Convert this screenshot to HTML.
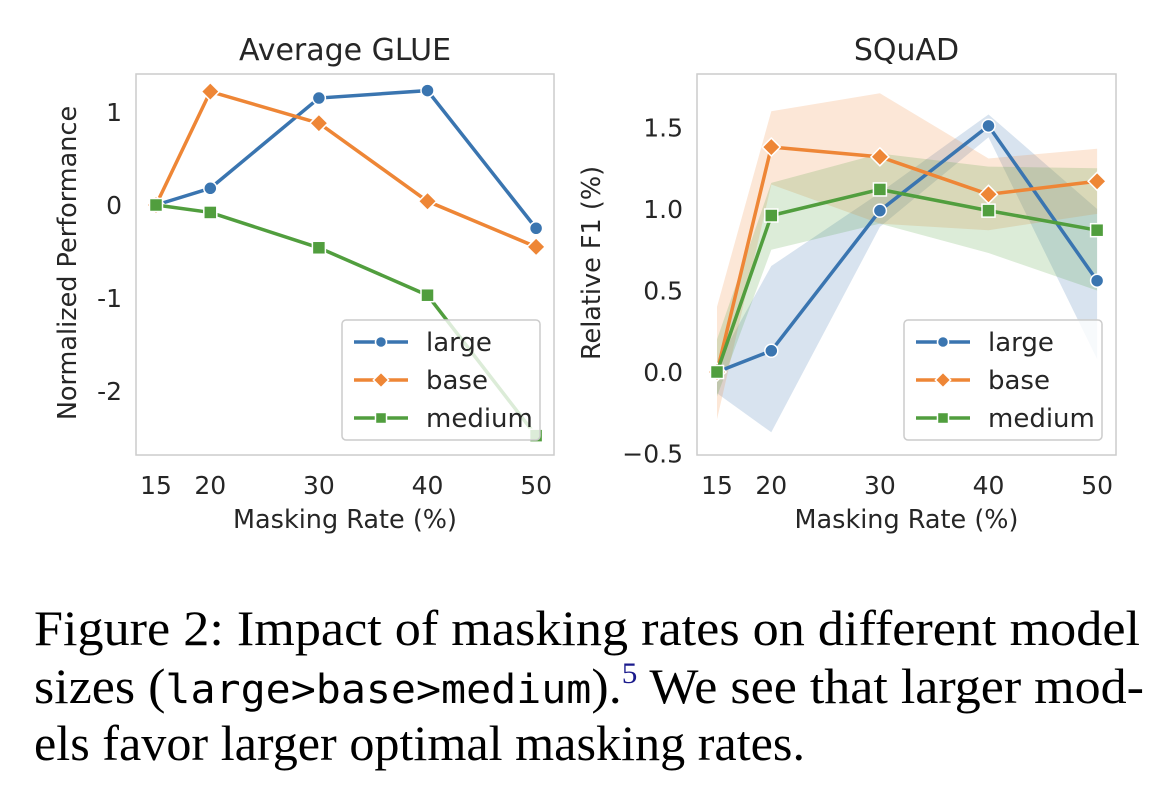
<!DOCTYPE html>
<html><head><meta charset="utf-8"><style>
html,body{margin:0;padding:0;background:#fff;}
svg{display:block;}
.t{font-family:"DejaVu Sans","Liberation Sans",sans-serif;fill:#262626;}
.cap{font-family:"Liberation Serif",serif;font-size:50px;fill:#000;}
.mono{font-family:"DejaVu Sans Mono","Liberation Mono",monospace;}
</style></head><body>
<svg id="fig" width="1174" height="804" viewBox="0 0 1174 804" xmlns="http://www.w3.org/2000/svg">
<g id="left"></g>
<g id="right"></g>
<g>
<text class="cap" x="34" y="645" textLength="1106" lengthAdjust="spacingAndGlyphs">Figure 2: Impact of masking rates on different model</text>
<text class="cap" x="34" y="703" textLength="1110" lengthAdjust="spacingAndGlyphs">sizes (<tspan class="mono" font-size="40">large&gt;base&gt;medium</tspan>).<tspan fill="#1a1a8c" font-size="30" dy="-20">5</tspan><tspan dy="20"> We see that larger mod-</tspan></text>
<text class="cap" x="34" y="760" textLength="771" lengthAdjust="spacingAndGlyphs">els favor larger optimal masking rates.</text>
</g>
</svg>
<script>
const xCats = [15, 20, 30, 40, 50];
const glueLarge = [0, 0.18, 1.15, 1.23, -0.25];
const glueBase = [0, 1.22, 0.88, 0.04, -0.45];
const glueMedium = [0, -0.08, -0.46, -0.97, -2.48];
const glueTicks = [1, 0, -1, -2];
const glueTickLabels = ["1", "0", "-1", "-2"];
const squadLarge = [0, 0.13, 0.99, 1.51, 0.56];
const squadBase = [0, 1.38, 1.32, 1.09, 1.17];
const squadMedium = [0, 0.96, 1.12, 0.99, 0.87];
const squadLargeHi = [0.05, 0.65, 1.1, 1.58, 1.0];
const squadLargeLo = [-0.13, -0.37, 0.89, 1.44, 0.08];
const squadBaseHi = [0.4, 1.6, 1.71, 1.31, 1.37];
const squadBaseLo = [-0.29, 1.15, 0.91, 0.87, 0.97];
const squadMediumHi = [0.2, 1.16, 1.34, 1.26, 1.25];
const squadMediumLo = [-0.15, 0.75, 0.91, 0.73, 0.5];
const squadTicks = [1.5, 1.0, 0.5, 0.0, -0.5];
const squadTickLabels = ["1.5", "1.0", "0.5", "0.0", "\u22120.5"];
const seriesNames = ["large", "base", "medium"];
const colors = ["#3a75b0", "#ee8636", "#519e3e"];
const NS = "http://www.w3.org/2000/svg";
function mk(parent, tag, attrs, txt) {
  const e = document.createElementNS(NS, tag);
  for (const k in attrs) e.setAttribute(k, attrs[k]);
  if (txt !== undefined) e.textContent = txt;
  parent.appendChild(e);
  return e;
}
function marker(g, kind, x, y, c, s) {
  let m;
  if (kind === 0) m = mk(g, "circle", {cx: x, cy: y, r: 6.5*s, fill: c, stroke: "#fff", "stroke-width": 1.5});
  else if (kind === 1) m = mk(g, "path", {d: `M${x} ${y-9*s}L${x+9*s} ${y}L${x} ${y+9*s}L${x-9*s} ${y}Z`, fill: c, stroke: "#fff", "stroke-width": 1.5});
  else m = mk(g, "rect", {x: x-6.5*s, y: y-6.5*s, width: 13*s, height: 13*s, fill: c, stroke: "#fff", "stroke-width": 1.5});
  return m;
}
function chart(id, cfg) {
  const g = document.getElementById(id);
  const X = v => cfg.x0 + (v - 15) * cfg.xs;
  const Y = v => cfg.y0 - v * cfg.ys;
  const clipId = id + "-clip";
  const defs = mk(g, "defs", {});
  const cp = mk(defs, "clipPath", {id: clipId});
  mk(cp, "rect", {x: cfg.L, y: cfg.T, width: cfg.R - cfg.L, height: cfg.B - cfg.T});
  const frame = mk(g, "rect", {x: cfg.L, y: cfg.T, width: cfg.R - cfg.L, height: cfg.B - cfg.T, fill: "none", stroke: "#cccccc", "stroke-width": 1.5});
  
  
  const title = mk(g, "text", {class: "t", x: (cfg.L + cfg.R) / 2, y: 60, "text-anchor": "middle", "font-size": 30}, cfg.title);
  
  
  cfg.ticks.forEach((t, i) => {
    const tl = mk(g, "text", {class: "t", x: cfg.L - 14, y: Y(t) + 9, "text-anchor": "end", "font-size": 25}, cfg.tickLabels[i]);
    
    
  });
  xCats.forEach(c => {
    const tl = mk(g, "text", {class: "t", x: X(c), y: 494, "text-anchor": "middle", "font-size": 25}, String(c));
    
    
  });
  const xl = mk(g, "text", {class: "t", x: (cfg.L + cfg.R) / 2, y: 528, "text-anchor": "middle", "font-size": 25.5}, "Masking Rate (%)");
  
  
  const yl = mk(g, "text", {class: "t", x: cfg.ylx, y: 263, "text-anchor": "middle", "font-size": 25.5, transform: `rotate(-90 ${cfg.ylx} 263)`}, cfg.ylabel);
  
  
  const pg = mk(g, "g", {"clip-path": `url(#${clipId})`});
  if (cfg.bands) cfg.bands.forEach((b, si) => {
    let d = xCats.map((c, i) => (i ? "L" : "M") + X(c) + " " + Y(b[0][i])).join("");
    for (let i = xCats.length - 1; i >= 0; i--) d += "L" + X(xCats[i]) + " " + Y(b[1][i]);
    const band = mk(pg, "path", {d: d + "Z", fill: colors[si], "fill-opacity": 0.2, stroke: "none"});
    
    
  });
  cfg.series.forEach((s, si) => {
    const line = mk(pg, "polyline", {points: xCats.map((c, i) => X(c) + "," + Y(s[i])).join(" "), fill: "none", stroke: colors[si], "stroke-width": 3.5});
    
    
    xCats.forEach((c, i) => {
      const m = marker(pg, si, X(c), Y(s[i]), colors[si], 1);
      
      
    });
  });
  const lg = mk(g, "g", {});
  
  
  mk(lg, "rect", {x: cfg.R - 212, y: 320, width: 198, height: 120, rx: 4, fill: "#fff", "fill-opacity": 0.8, stroke: "#cccccc", "stroke-width": 1.5});
  seriesNames.forEach((n, i) => {
    const ly = 342 + i * 38, lx = cfg.R - 200;
    const e = mk(lg, "g", {});
    
    
    mk(e, "line", {x1: lx, y1: ly, x2: lx + 54, y2: ly, stroke: colors[i], "stroke-width": 3.5});
    marker(e, i, lx + 27, ly, colors[i], 0.85);
    mk(e, "text", {class: "t", x: lx + 72, y: ly + 9, "font-size": 26}, n);
  });
}
chart("left", {L: 136, R: 554, T: 74, B: 455, x0: 156, xs: 10.86, y0: 205, ys: 93,
  title: "Average GLUE", ylabel: "Normalized Performance", ylx: 76,
  ticks: glueTicks, tickLabels: glueTickLabels, series: [glueLarge, glueBase, glueMedium]});
chart("right", {L: 697, R: 1116, T: 74, B: 455, x0: 717, xs: 10.86, y0: 372, ys: 163,
  title: "SQuAD", ylabel: "Relative F1 (%)", ylx: 600,
  ticks: squadTicks, tickLabels: squadTickLabels, series: [squadLarge, squadBase, squadMedium],
  bands: [[squadLargeHi, squadLargeLo], [squadBaseHi, squadBaseLo], [squadMediumHi, squadMediumLo]]});
</script>
</body></html>
